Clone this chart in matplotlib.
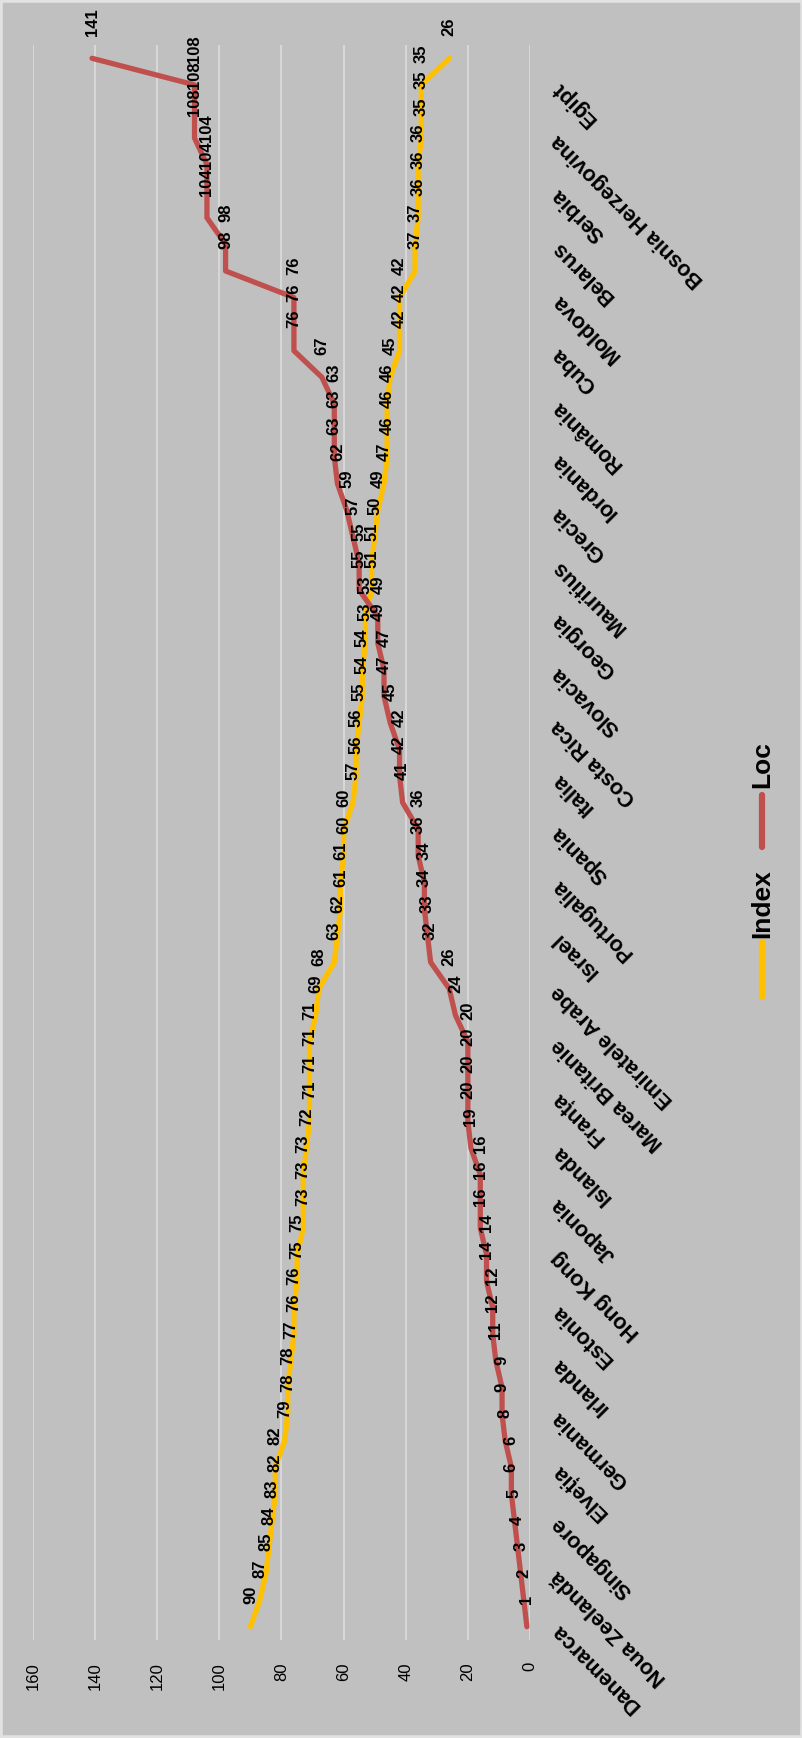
import matplotlib
matplotlib.use("Agg")
import matplotlib.pyplot as plt
from matplotlib.lines import Line2D
from matplotlib.patches import Rectangle

plt.rcParams['font.family'] = ['Liberation Sans', 'DejaVu Sans']

# ranking countries: perception index score and position in the ranking
index_vals = [90, 87, 85, 84, 83, 82, 82, 79, 78, 78,
              77, 76, 76, 75, 75, 73, 73, 73, 72, 71,
              71, 71, 71, 69, 68, 63, 62, 61, 61, 60,
              60, 57, 56, 56, 55, 54, 54, 53, 53, 51,
              51, 50, 49, 47, 46, 46, 46, 45, 42, 42,
              42, 37, 37, 36, 36, 36, 35, 35, 35, 26]
loc_vals = [1, 2, 3, 4, 5, 6, 6, 8, 9, 9,
            11, 12, 12, 14, 14, 16, 16, 16, 19, 20,
            20, 20, 20, 24, 26, 32, 33, 34, 34, 36,
            36, 41, 42, 42, 45, 47, 47, 49, 49, 55,
            55, 57, 59, 62, 63, 63, 63, 67, 76, 76,
            76, 98, 98, 104, 104, 104, 108, 108, 108, 141]
# every second country gets an axis label
country_labels = ["Danemarca", "Noua Zeelandă", "Singapore", "Elveția", "Germania",
                  "Irlanda", "Estonia", "Hong Kong", "Japonia", "Islanda",
                  "Franța", "Marea Britanie", "Emiratele Arabe", "Israel", "Portugalia",
                  "Spania", "Italia", "Costa Rica", "Slovacia", "Georgia",
                  "Mauritius", "Grecia", "Iordania", "România", "Cuba",
                  "Moldova", "Belarus", "Serbia", "Bosnia Herzegovina", "Egipt"]
value_ticks = [0, 20, 40, 60, 80, 100, 120, 140, 160]

BG = '#C0C0C0'
YELLOW = '#FFC000'
RED = '#C0504D'
W, H = 803, 1738

fig = plt.figure(figsize=(W / 100, H / 100), dpi=100)
fig.patch.set_facecolor(BG)
ax = fig.add_axes([33 / W, (H - 1640) / H, (530 - 33) / W, (1640 - 45) / H])
ax.set_facecolor(BG)

n = len(index_vals)
pos = list(range(n))
ax.set_xlim(160, 0)
ax.set_ylim(-0.5, n - 0.5)
ax.set_xticks(value_ticks)
ax.set_xticklabels([str(t) for t in value_ticks], rotation=90, fontsize=12)
ax.tick_params(axis='x', length=0, pad=16)
ax.set_yticks([])
ax.grid(axis='x', color='#DADADA', linewidth=1.3)
ax.set_axisbelow(True)
for s in ax.spines.values():
    s.set_visible(False)

ax.plot(index_vals, pos, color=YELLOW, lw=3.8, solid_joinstyle='round', solid_capstyle='round', zorder=3)
ax.plot(loc_vals, pos, color=RED, lw=3.8, solid_joinstyle='round', solid_capstyle='round', zorder=4)

for vals in (index_vals, loc_vals):
    for v, p in zip(vals, pos):
        ax.annotate(str(v), (v, p), xytext=(0, 16), textcoords='offset points',
                    rotation=90, ha='center', va='bottom', fontsize=12,
                    fontweight='bold', zorder=5, annotation_clip=False)

for i, name in enumerate(country_labels):
    ax.text(-8, 2 * i, name, rotation=135, rotation_mode='anchor',
            ha='right', va='center', fontsize=15.5, fontweight='bold', clip_on=False)

# legend drawn by hand so it follows the vertical layout
def fy(px):
    return 1 - px / H

lx = 762 / W
fig.add_artist(Line2D([lx, lx], [fy(997), fy(942)], color=YELLOW, lw=4.5,
                      solid_capstyle='round', transform=fig.transFigure))
fig.text(lx, fy(938), "Index", rotation=90, ha='center', va='bottom',
         fontsize=19, fontweight='bold')
fig.add_artist(Line2D([lx, lx], [fy(847), fy(795)], color=RED, lw=4.5,
                      solid_capstyle='round', transform=fig.transFigure))
fig.text(lx, fy(788), "Loc", rotation=90, ha='center', va='bottom',
         fontsize=19, fontweight='bold')

fig.add_artist(Rectangle((0, 0), 1, 1, transform=fig.transFigure, fill=False,
                         edgecolor='#E2E2E2', lw=4))

fig.savefig("out.png", dpi=100, facecolor=BG)
